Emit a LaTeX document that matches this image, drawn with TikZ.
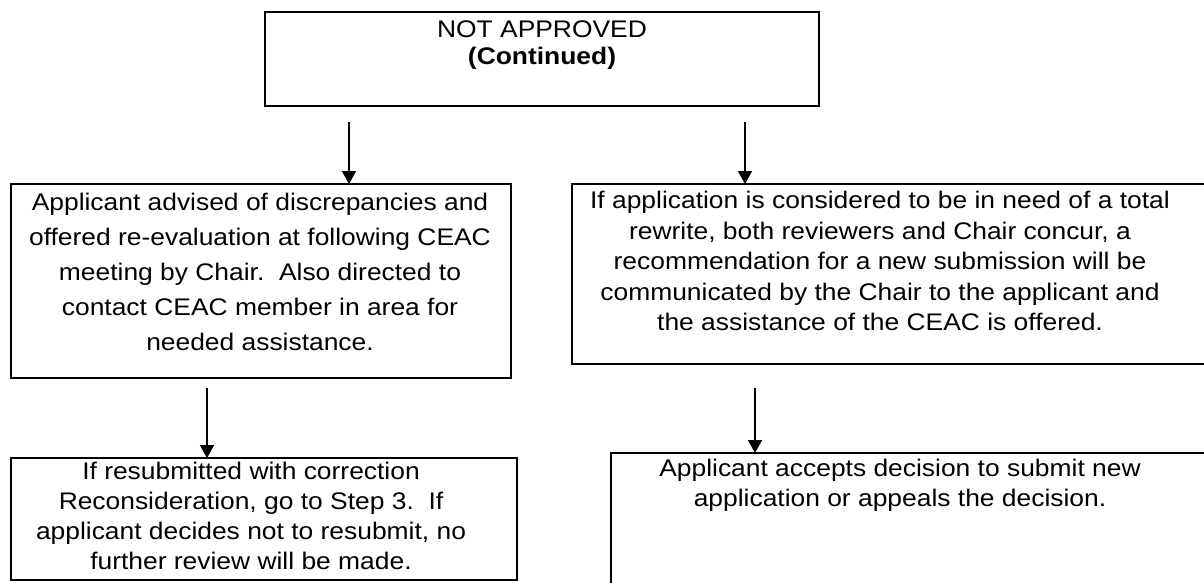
\documentclass[tikz,border=0pt]{standalone}
\usepackage{fontspec}
\setmainfont[FakeStretch=1.1]{Liberation Sans}
\usetikzlibrary{arrows.meta}

\begin{document}
\begin{tikzpicture}[x=1pt,y=-1pt,->,>={Triangle[width=14pt,length=13pt]},line width=1.8pt,
        font=\fontsize{24}{30}\selectfont]
        \tikzstyle{box}=[draw,line width=2.6pt,inner sep=0pt,outer sep=0pt,anchor=north west]
        \tikzstyle{txt}=[align=center,inner sep=0pt,anchor=north]

        \useasboundingbox (0,0) rectangle (1204,583);
        \clip (0,0) rectangle (1204,583);

        % boxes
        \node[box,minimum width=554pt,minimum height=94pt]  (notapp)  at (265,12)  {};
        \node[box,minimum width=500pt,minimum height=194pt] (advised) at (11,184)  {};
        \node[box,minimum width=648pt,minimum height=180pt] (rewrite) at (572,184) {};
        \node[box,minimum width=506pt,minimum height=122pt] (resub)   at (11,458)  {};
        \node[box,minimum width=609pt,minimum height=167pt] (accepts) at (611,453) {};

        % texts
        \node[txt,font=\fontsize{24}{27}\selectfont] (notappT) at (542,20)
            {NOT APPROVED\\\textbf{(Continued)}};
        \node[txt,font=\fontsize{24}{35}\selectfont] (advisedT) at (260,192.5)
            {Applicant advised of discrepancies and\\offered re-evaluation at following CEAC\\meeting by Chair.\ \ Also directed to\\contact CEAC member in area for\\needed assistance.};
        \node[txt,font=\fontsize{24}{30.5}\selectfont] (rewriteT) at (880,190.5)
            {If application is considered to be in need of a total\\rewrite, both reviewers and Chair concur, a\\recommendation for a new submission will be\\communicated by the Chair to the applicant and\\the assistance of the CEAC is offered.};
        \node[txt] (resubT) at (251,461.5)
            {If resubmitted with correction\\Reconsideration, go to Step 3.\ \ If\\applicant decides not to resubmit, no\\further review will be made.};
        \node[txt] (acceptsT) at (900,458.5)
            {Applicant accepts decision to submit new\\application or appeals the decision.};

        % arrow starts
        \coordinate (s1) at (349,122);
        \coordinate (s2) at (745,122);
        \coordinate (s3) at (207,388);
        \coordinate (s4) at (755,388);

        \draw (s1) -- (s1 |- advised.north);
        \draw (s2) -- (s2 |- rewrite.north);
        \draw (s3) -- (s3 |- resub.north);
        \draw (s4) -- (s4 |- accepts.north);
\end{tikzpicture}
\end{document}
